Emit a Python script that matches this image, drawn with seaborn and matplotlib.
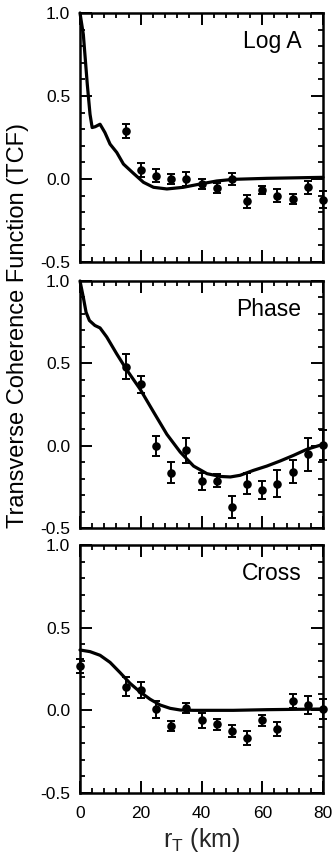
import numpy as np
import pandas as pd
import matplotlib
matplotlib.use("Agg")
import matplotlib.pyplot as plt
from matplotlib.ticker import MultipleLocator, FormatStrFormatter
import seaborn as sns

# ---------------- data ----------------
panel_names = ["Log A", "Phase", "Cross"]

# measured points: separation r_T (km), TCF value, error half-width
loga_r = [15, 20, 25, 30, 35, 40, 45, 50, 55, 60, 65, 70, 75, 80]
loga_v = [0.29, 0.054, 0.02, 0.0, 0.0, -0.03, -0.055, 0.0, -0.135, -0.065, -0.10, -0.12, -0.05, -0.125]
loga_e = [0.04, 0.04, 0.04, 0.03, 0.045, 0.03, 0.03, 0.035, 0.04, 0.025, 0.04, 0.03, 0.04, 0.05]

phase_r = [15, 20, 25, 30, 35, 40, 45, 50, 55, 60, 65, 70, 75, 80]
phase_v = [0.48, 0.372, 0.0, -0.163, -0.028, -0.217, -0.213, -0.372, -0.23, -0.27, -0.23, -0.157, -0.053, 0.004]
phase_e = [0.077, 0.053, 0.06, 0.065, 0.077, 0.05, 0.04, 0.067, 0.065, 0.055, 0.08, 0.068, 0.10, 0.09]

cross_r = [0, 15, 20, 25, 30, 35, 40, 45, 50, 55, 60, 65, 70, 75, 80]
cross_v = [0.268, 0.143, 0.121, 0.006, -0.095, 0.016, -0.06, -0.085, -0.125, -0.165, -0.06, -0.115, 0.056, 0.032, 0.006]
cross_e = [0.04, 0.057, 0.048, 0.052, 0.032, 0.03, 0.044, 0.032, 0.035, 0.043, 0.033, 0.043, 0.042, 0.057, 0.06]

# model curves
loga_cx = [0, 1.1, 2.4, 3.3, 4.0, 5.0, 6.6, 8.2, 9.9, 12.1, 14.3, 17.6, 20.9, 24.2, 28.6, 34.0, 39.6, 45.0, 50.5, 61.5, 80]
loga_cy = [1.0, 0.87, 0.57, 0.39, 0.31, 0.315, 0.33, 0.28, 0.21, 0.16, 0.09, 0.034, -0.02, -0.05, -0.06, -0.05, -0.03, -0.012, -0.002, 0.004, 0.01]

phase_cx = [0, 1.1, 2.0, 3.1, 4.9, 6.6, 8.8, 12.1, 15.4, 19.8, 24.2, 28.6, 33.0, 37.4, 41.8, 46.2, 49.5, 52.7, 57.1, 61.5, 65.9, 70.3, 74.7, 80]
phase_cy = [1.0, 0.90, 0.81, 0.76, 0.73, 0.715, 0.66, 0.557, 0.46, 0.343, 0.205, 0.069, -0.039, -0.124, -0.17, -0.187, -0.19, -0.18, -0.15, -0.124, -0.093, -0.059, -0.022, 0.008]

cross_cx = [0, 3.3, 6.6, 9.9, 13.2, 16.5, 19.8, 23.1, 26.4, 29.7, 33.0, 37.4, 50.5, 61.5, 80]
cross_cy = [0.365, 0.355, 0.333, 0.29, 0.228, 0.163, 0.111, 0.067, 0.032, 0.012, 0.002, 0.0, 0.0, 0.004, 0.008]

x_ticks = [0, 20, 40, 60, 80]
y_ticks = [-0.5, 0.0, 0.5, 1.0]

# ---------------- styling ----------------
sns.set_theme(style="ticks")
plt.rcParams["font.family"] = ["Liberation Sans", "DejaVu Sans"]
plt.rcParams["mathtext.fontset"] = "custom"
plt.rcParams["mathtext.rm"] = "Liberation Sans"
plt.rcParams["mathtext.it"] = "Liberation Sans"
plt.rcParams["axes.unicode_minus"] = False

fig = plt.figure(figsize=(3.32, 8.55), dpi=100)
L, W = 80 / 332, 243 / 332
H = 855
rects = [(13, 262), (281, 528), (545, 793)]

panels = [
    (loga_r, loga_v, loga_e, loga_cx, loga_cy),
    (phase_r, phase_v, phase_e, phase_cx, phase_cy),
    (cross_r, cross_v, cross_e, cross_cx, cross_cy),
]

axes = []
for i, ((top, bot), name, (r, v, e, cx, cy)) in enumerate(zip(rects, panel_names, panels)):
    ax = fig.add_axes([L, 1 - bot / H, W, (bot - top) / H])
    axes.append(ax)
    curve = pd.DataFrame({"r": cx, "tcf": cy})
    sns.lineplot(data=curve, x="r", y="tcf", ax=ax, color="black", lw=2.3,
                 estimator=None, sort=False, clip_on=False, zorder=3)
    ax.errorbar(r, v, yerr=e, fmt="none", ecolor="black", elinewidth=1.4,
                capsize=3.2, capthick=1.4, clip_on=False, zorder=4)
    pts = pd.DataFrame({"r": r, "tcf": v})
    sns.scatterplot(data=pts, x="r", y="tcf", ax=ax, color="black", s=38,
                    edgecolor="black", linewidth=0, clip_on=False, zorder=5)
    ax.set_xlim(0, 80)
    ax.set_ylim(-0.5, 1.0)
    ax.set_xticks(x_ticks)
    ax.set_yticks(y_ticks)
    ax.xaxis.set_minor_locator(MultipleLocator(4))
    ax.yaxis.set_minor_locator(MultipleLocator(0.1))
    ax.yaxis.set_major_formatter(FormatStrFormatter("%.1f"))
    ax.tick_params(which="both", direction="in", top=True, right=True,
                   color="black", labelcolor="black")
    ax.tick_params(which="major", length=8.5, width=1.4, labelsize=12.5)
    ax.tick_params(which="minor", length=3.8, width=1.3)
    ax.tick_params(axis="y", which="major", pad=7)
    ax.tick_params(axis="x", which="major", pad=9)
    for s in ax.spines.values():
        s.set_linewidth(1.8)
        s.set_color("black")
    ax.set_xlabel("")
    ax.set_ylabel("")
    if i < 2:
        ax.tick_params(axis="x", labelbottom=False)
    ax.text(0.91, 0.885, name, transform=ax.transAxes, ha="right", va="center",
            fontsize=16.5, color="black")

fig.text(18 / 332, 1 - 326 / H, "Transverse Coherence Function (TCF)",
         rotation=90, ha="center", va="center", fontsize=17, color="black")
axes[2].set_xlabel(r"r$_{\mathrm{T}}$ (km)", fontsize=18, labelpad=4)

fig.savefig("out.png", dpi=100)
